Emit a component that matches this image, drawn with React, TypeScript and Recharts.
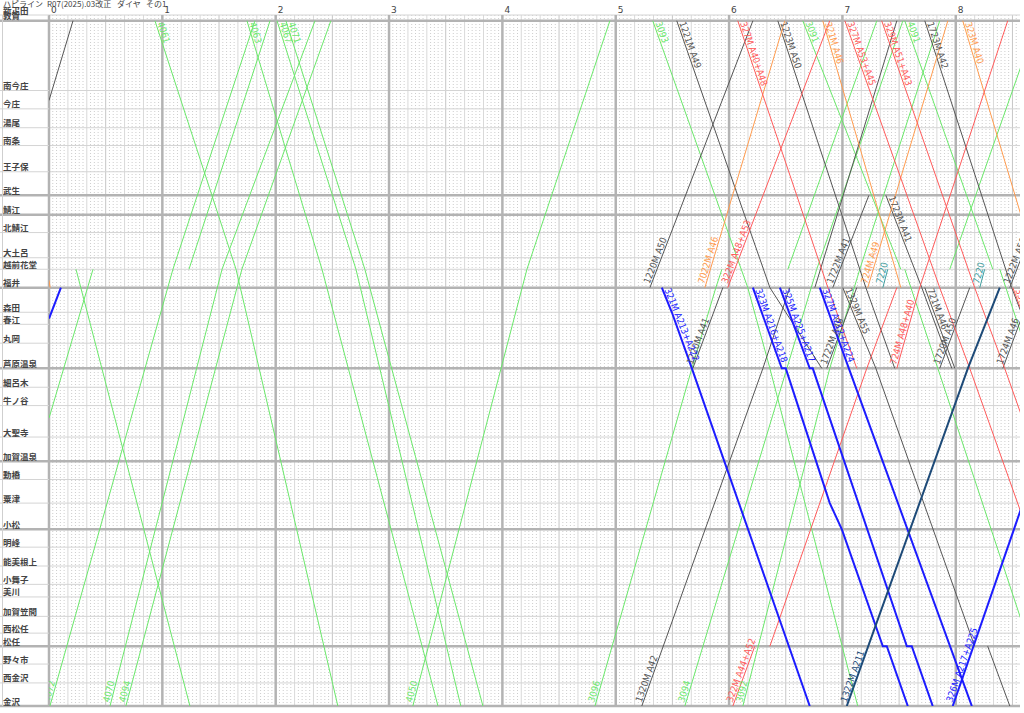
import React from "react";
import { LineChart, Line, XAxis, YAxis, ReferenceLine } from "recharts";

// stations (top to bottom) and their distance from 敦賀 in km
const stations = ["新疋田", "敦賀", "南今庄", "今庄", "湯尾", "南条", "王子保", "武生", "鯖江", "北鯖江", "大土呂", "越前花堂", "福井", "森田", "春江", "丸岡", "芦原温泉", "細呂木", "牛ノ谷", "大聖寺", "加賀温泉", "動橋", "粟津", "小松", "明峰", "能美根上", "小舞子", "美川", "加賀笠間", "西松任", "松任", "野々市", "西金沢", "金沢"];
const stationKm = [-1.1, 0, 13.3, 16.8, 20.4, 23.8, 28.8, 33.3, 37.0, 40.4, 45.2, 47.4, 50.9, 55.6, 57.9, 61.5, 66.3, 69.9, 73.4, 79.4, 84.0, 87.5, 92.0, 97.0, 100.4, 104.0, 107.5, 109.9, 113.6, 116.8, 119.3, 122.7, 126.3, 130.7];
const majorStations = ["敦賀", "武生", "鯖江", "福井", "芦原温泉", "加賀温泉", "小松", "松任", "金沢"];

// time axis in minutes after 0:00
const hourTicks = [0, 60, 120, 180, 240, 300, 360, 420, 480];
const hourLabels = ["0", "1", "2", "3", "4", "5", "6", "7", "8"];

type Stop = [string | number, number] | null;
type Train = { no?: string; stops: Stop[] };

// 貨物 (green)
const freightTrains: Train[] = [
  { stops: [[75.8, 0], ["越前花堂", 23.3], null, ["越前花堂", 74.1], ["敦賀", 117.0]] },
  { no: "4072", stops: [["金沢", 0.5], ["越前花堂", 65.6], ["敦賀", 109.0]] },
  { stops: [["越前花堂", 14.3], ["金沢", 74.6]] },
  { no: "4070", stops: [["金沢", 32.3], ["越前花堂", 91.6], ["敦賀", 140.8]] },
  { no: "4094", stops: [["金沢", 40.7], ["越前花堂", 102.1], ["敦賀", 149.2]] },
  { no: "4061", stops: [["敦賀", 56.1], ["越前花堂", 99.0], ["金沢", 152.9]] },
  { no: "4063", stops: [["敦賀", 104.8], ["越前花堂", 144.5], ["金沢", 205.9]] },
  { no: "4067", stops: [["敦賀", 120.7], ["越前花堂", 162.5], ["金沢", 218.0]] },
  { no: "4071", stops: [["敦賀", 125.4], ["越前花堂", 167.2], ["金沢", 229.7]] },
  { no: "4050", stops: [["金沢", 192.6], ["越前花堂", 253.0], ["敦賀", 296.9]] },
  { no: "3096", stops: [["金沢", 289.0], ["芦原温泉", 340.3], ["福井", 353.0], ["越前花堂", 356.2], null, ["越前花堂", 391.1], ["敦賀", 438.2]] },
  { no: "3094", stops: [["金沢", 336.6], ["芦原温泉", 390.6], ["越前花堂", 406.4], ["敦賀", 452.0]] },
  { no: "3092", stops: [["金沢", 367.3], ["芦原温泉", 413.3], ["越前花堂", 429.2], ["敦賀", 471.5]] },
  { stops: [["越前花堂", 476.8], ["敦賀", 523.0]] },
  { no: "3093", stops: [["敦賀", 319.6], ["福井", 369.9], ["芦原温泉", 381.6], ["金沢", 428.1]] },
  { no: "3091", stops: [["敦賀", 399.0], ["越前花堂", 450.9], null, ["越前花堂", 453.0], ["芦原温泉", 470.5], ["金沢", 529.7]] },
  { no: "4091", stops: [["敦賀", 453.0], ["越前花堂", 499.6], null, ["越前花堂", 503.3], ["金沢", 579.5]] },
];

// 普通 (black)
const localTrains: Train[] = [
  { stops: [[15.2, 0], ["敦賀", 12.7]] },
  { no: "1220M A50", stops: [["福井", 318.1], ["敦賀", 372.6]] },
  { no: "1221M A49", stops: [["敦賀", 332.3], ["福井", 381.6], ["芦原温泉", 409.1]] },
  { no: "1220M A41", stops: [["芦原温泉", 340.8], ["福井", 356.7]] },
  { no: "1320M A42", stops: [["金沢", 313.8], ["芦原温泉", 377.9], ["福井", 392.1], null, ["福井", 405.4], ["敦賀", 448.8]] },
  { no: "1223M A50", stops: [["敦賀", 385.8], ["福井", 432.4], ["芦原温泉", 447.7]] },
  { no: "1722M A48", stops: [["芦原温泉", 411.7], ["福井", 427.6]] },
  { no: "1722M A41", stops: [["福井", 414.9], ["武生", 434.0]] },
  { no: "1723M A41", stops: [["武生", 443.0], ["福井", 462.0], ["芦原温泉", 477.9]] },
  { no: "1329M A55", stops: [["福井", 420.2], ["芦原温泉", 437.7], ["松任", 490.0], null, ["松任", 496.9], ["金沢", 508.6]] },
  { no: "1723M A42", stops: [["敦賀", 463.6], ["福井", 509.6], ["芦原温泉", 526.0]] },
  { no: "721M A46", stops: [["福井", 463.6], ["芦原温泉", 479.5]] },
  { no: "1720M A50", stops: [["芦原温泉", 471.5], ["福井", 487.4]] },
  { no: "1724M A46", stops: [["芦原温泉", 504.9], ["福井", 520.7]] },
  { no: "1222M A50", stops: [["福井", 508.6], ["敦賀", 563.1]] },
];

// 快速 (red)
const redTrains: Train[] = [
  { no: "322M A48+A53", stops: [["福井", 359.3], ["敦賀", 413.3]] },
  { no: "327M A40+A48", stops: [["敦賀", 364.6], ["福井", 412.3], ["芦原温泉", 427.6]] },
  { no: "327M A53+A45", stops: [["敦賀", 421.3], ["福井", 471.5], ["芦原温泉", 487.4], ["金沢", 550.9]] },
  { no: "329M A51+A43", stops: [["敦賀", 440.8], ["福井", 490.0], ["芦原温泉", 505.9], ["金沢", 569.4]] },
  { no: "322M A44+A52", stops: [["金沢", 362.0], ["松任", 373.6], null, ["松任", 381.6], ["芦原温泉", 432.9], ["福井", 448.8]] },
  { no: "724M A48+A40", stops: [["芦原温泉", 448.8], ["福井", 460.9], ["敦賀", 507.5]] },
  { no: "331M A52", stops: [["福井", 510.2], ["芦原温泉", 526.0]] },
];

// orange
const orangeTrains: Train[] = [
  { stops: [[49.5, 0], ["福井", 0.6]] },
  { no: "7022M A46", stops: [["福井", 347.2], ["敦賀", 389.5]] },
  { no: "321M A46", stops: [["敦賀", 409.6], ["福井", 450.9]] },
  { no: "724M A49", stops: [["福井", 433.4], ["敦賀", 475.8]] },
  { no: "323M A40", stops: [["敦賀", 483.7], ["福井", 526.0]] },
];

// IRいしかわ (blue)
const irTrains: Train[] = [
  { stops: [[56.8, 0], ["福井", 6.3]] },
  { no: "321M A213+A222", stops: [["福井", 324.4], ["森田", 329.7], ["芦原温泉", 340.3], ["金沢", 402.7]] },
  { no: "323M A216+A218", stops: [["福井", 372.6], ["芦原温泉", 387.9], ["芦原温泉", 390.0], ["粟津", 413.3], ["小松", 419.7], ["松任", 441.4], ["松任", 443.5], ["金沢", 454.6]] },
  { no: "325M A225+A217", stops: [["福井", 386.9], ["芦原温泉", 402.7], ["芦原温泉", 404.3], ["松任", 454.1], ["松任", 456.7], ["金沢", 467.8]] },
  { no: "327M A212+A224", stops: [["福井", 408.0], ["芦原温泉", 423.4], ["金沢", 488.5]] },
  { no: "326M A217+A225", stops: [["金沢", 478.4], ["芦原温泉", 540.3]] },
];

const navyTrains: Train[] = [
  { no: "1322M A211", stops: [["金沢", 422.3], ["芦原温泉", 486.4], ["福井", 503.3]] },
];

const tealTrains: Train[] = [
  { no: "7220", stops: [["福井", 441.4], ["越前花堂", 444.0]] },
  { no: "7220", stops: [["福井", 492.7], ["越前花堂", 495.3]] },
];

// layout
const W = 1024;
const H = 713;
const LEFT = 49;
const TOP = 15;
const MARGIN = { top: 0, right: 4, bottom: 7, left: 0 };
const X_DOMAIN: [number, number] = [0, 514];
const Y_DOMAIN: [number, number] = [-1.1, 130.7];
const PLOT_W = W - LEFT - MARGIN.right;
const PLOT_H = H - TOP - MARGIN.bottom;
const PX_PER_MIN = PLOT_W / (X_DOMAIN[1] - X_DOMAIN[0]);
const PX_PER_KM = PLOT_H / (Y_DOMAIN[1] - Y_DOMAIN[0]);

const tenMinuteTicks: number[] = [];
const twoMinuteTicks: number[] = [];
for (let m = 2; m < X_DOMAIN[1]; m += 2) {
  if (m % 60 === 0) continue;
  if (m % 10 === 0) tenMinuteTicks.push(m);
  else twoMinuteTicks.push(m);
}

const groups = [
  { trains: freightTrains, color: "#6ae86a", width: 1 },
  { trains: localTrains, color: "#555555", width: 1 },
  { trains: orangeTrains, color: "#ff9b4e", width: 1 },
  { trains: redTrains, color: "#ff5a5a", width: 1 },
  { trains: tealTrains, color: "#3e9c9c", width: 1 },
  { trains: irTrains, color: "#1c1cff", width: 2 },
  { trains: navyTrains, color: "#1d4a78", width: 2 },
];

function toPoints(stops: Stop[]) {
  const pts: { t: number; km: number | null }[] = [];
  let lastT = 0;
  for (const s of stops) {
    if (s === null) {
      pts.push({ t: lastT, km: null });
      continue;
    }
    const km = typeof s[0] === "number" ? s[0] : stationKm[stations.indexOf(s[0])];
    pts.push({ t: s[1], km });
    lastT = s[1];
  }
  return pts;
}

function labelAngle(pts: { t: number; km: number | null }[]) {
  const a = pts[0];
  const b = pts[1];
  return (Math.atan2(((b.km as number) - (a.km as number)) * PX_PER_KM, (b.t - a.t) * PX_PER_MIN) * 180) / Math.PI;
}

const makeDot = (text: string | undefined, color: string, angle: number) => (p: any) => {
  const key = p.key ?? `dot-${p.index}`;
  if (p.index !== 0 || !text || p.cx == null) return <g key={key} />;
  const r = (angle * Math.PI) / 180;
  const along = 3;
  const side = 1.5;
  const x = p.cx + along * Math.cos(r) + side * Math.sin(r);
  const y = p.cy + along * Math.sin(r) - side * Math.cos(r);
  return (
    <text
      key={key}
      transform={`translate(${x.toFixed(1)},${y.toFixed(1)}) rotate(${angle.toFixed(1)})`}
      fontSize={9.5}
      fontFamily="'DejaVu Sans Condensed', 'Liberation Sans Narrow', sans-serif"
      fill={color}
    >
      {text}
    </text>
  );
};

const StationTick = (p: any) => {
  const idx = stationKm.indexOf(p.payload.value);
  const name = stations[idx];
  const major = majorStations.includes(name);
  return (
    <g>
      <line x1={0} x2={LEFT} y1={p.y} y2={p.y} stroke={major ? "#b3b3b3" : "#d4d4d4"} strokeWidth={major ? 2.5 : 1} />
      <text x={3} y={p.y - 1.5} fontSize={8.5} fontWeight={600} fill="#444" fontFamily="'Noto Sans CJK JP', sans-serif">
        {name}
      </text>
    </g>
  );
};

const HourTick = (p: any) => (
  <text x={p.x + 2} y={13} fontSize={9} fill="#444" fontFamily="'DejaVu Sans', sans-serif">
    {hourLabels[hourTicks.indexOf(p.payload.value)]}
  </text>
);

const series = groups.flatMap((g) =>
  g.trains.map((tr) => {
    const points = toPoints(tr.stops);
    return { no: tr.no, color: g.color, width: g.width, points, angle: labelAngle(points) };
  })
);

const titleStyle: React.CSSProperties = {
  position: "absolute",
  top: -1,
  fontSize: 8,
  lineHeight: "9px",
  color: "#444",
  fontFamily: "'Noto Sans CJK JP', sans-serif",
  whiteSpace: "pre",
};

export default function App() {
  return (
    <div style={{ position: "relative", width: W, height: H, background: "#fff" }}>
      <style>{"body{margin:0;}"}</style>
      <LineChart width={W} height={H} margin={MARGIN}>
        <XAxis
          dataKey="t"
          type="number"
          domain={X_DOMAIN}
          allowDataOverflow
          orientation="top"
          height={TOP}
          ticks={hourTicks}
          interval={0}
          tick={(p: any) => <HourTick {...p} />}
          axisLine={false}
          tickLine={false}
        />
        <YAxis
          dataKey="km"
          type="number"
          domain={Y_DOMAIN}
          reversed
          allowDataOverflow
          width={LEFT}
          ticks={stationKm}
          interval={0}
          tick={(p: any) => <StationTick {...p} />}
          axisLine={false}
          tickLine={false}
          tickSize={0}
          tickMargin={0}
        />
        {twoMinuteTicks.map((m) => (
          <ReferenceLine key={`m2-${m}`} x={m} stroke="#cdcdcd" strokeDasharray="1 2" strokeWidth={1} />
        ))}
        {tenMinuteTicks.map((m) => (
          <ReferenceLine key={`m10-${m}`} x={m} stroke={m % 30 === 0 ? "#c6c6c6" : "#d9d9d9"} strokeWidth={1} />
        ))}
        {stationKm.map((km, i) => (
          <ReferenceLine
            key={`st-${i}`}
            y={km}
            stroke={majorStations.includes(stations[i]) ? "#b3b3b3" : "#d4d4d4"}
            strokeWidth={majorStations.includes(stations[i]) ? 2.5 : 1}
          />
        ))}
        {hourTicks.map((m) => (
          <ReferenceLine key={`h-${m}`} x={m} stroke="#b3b3b3" strokeWidth={2.5} />
        ))}
        {series.map((s, i) => (
          <Line
            key={`tr-${i}`}
            data={s.points}
            dataKey="km"
            stroke={s.color}
            strokeWidth={s.width}
            dot={makeDot(s.no, s.color, s.angle)}
            activeDot={false}
            connectNulls={false}
            isAnimationActive={false}
          />
        ))}
      </LineChart>
      <div style={{ ...titleStyle, left: 3 }}>ハピライン</div>
      <div style={{ ...titleStyle, left: 47 }}>R07(2025).03改正</div>
      <div style={{ ...titleStyle, left: 117 }}>ダイヤ</div>
      <div style={{ ...titleStyle, left: 146 }}>その1</div>
      <div style={{ position: "absolute", left: 2, top: TOP, width: 1, height: PLOT_H, background: "#cfcfcf" }} />
    </div>
  );
}
